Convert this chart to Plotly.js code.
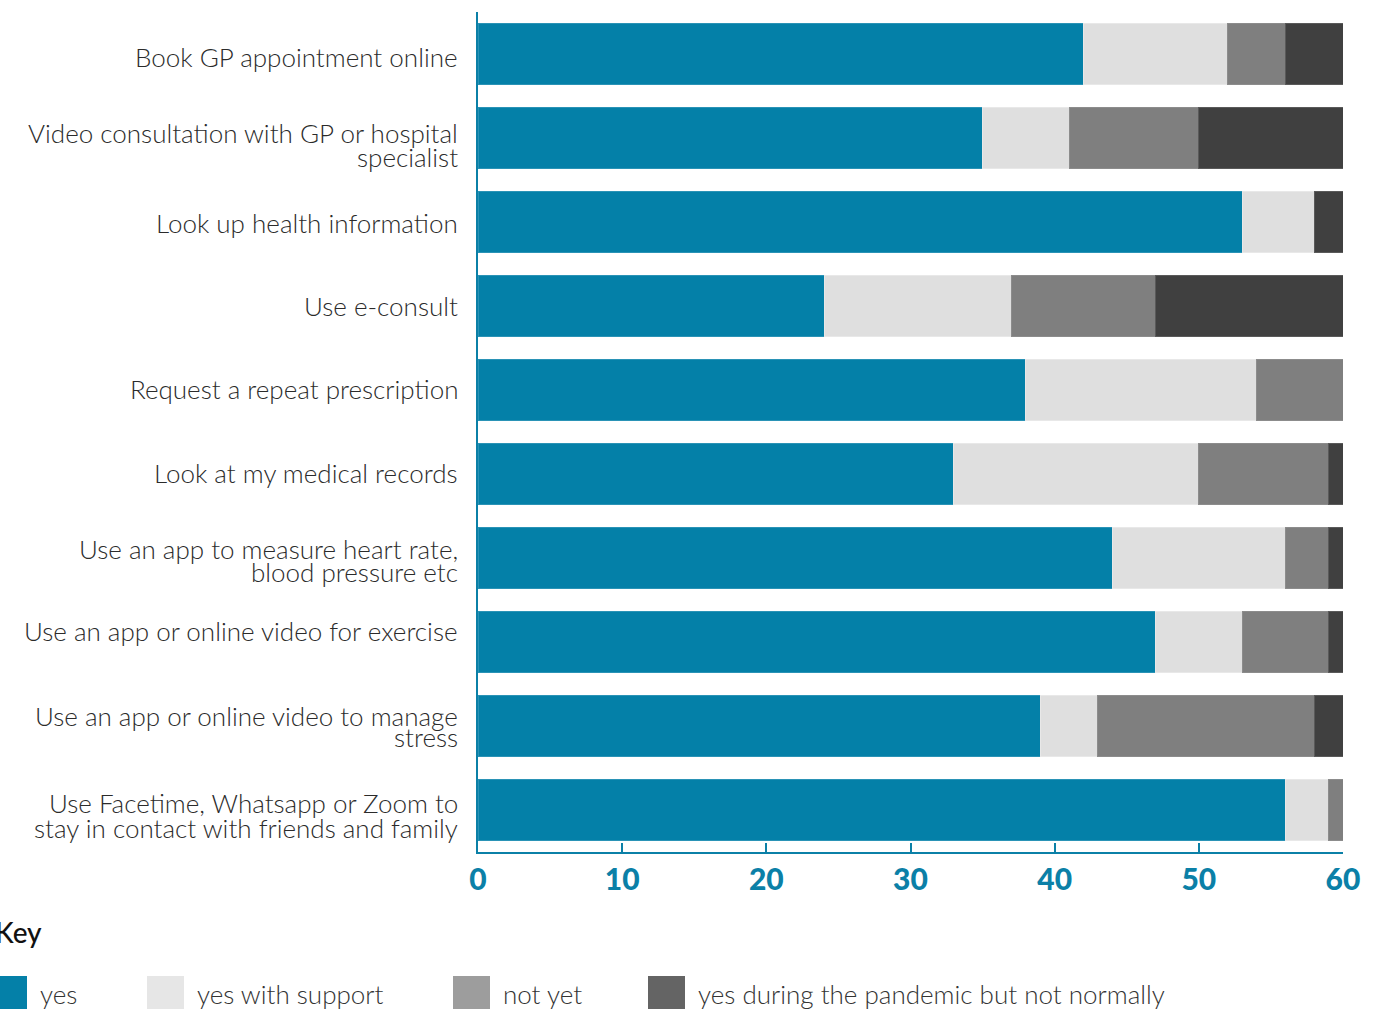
<!DOCTYPE html>
<html>
<head>
<meta charset="utf-8">
<script src="https://cdn.plot.ly/plotly-3.0.1.min.js"></script>
<style>
  html, body { margin: 0; padding: 0; background: #fff; }
  #chart { width: 1395px; height: 1009px; }
</style>
</head>
<body>
<div id="chart"></div>
<script>
// ---- Data ----
const categories = [
  "Book GP appointment online",
  "Video consultation with GP or hospital<br>specialist",
  "Look up health information",
  "Use e-consult",
  "Request a repeat prescription",
  "Look at my medical records",
  "Use an app to measure heart rate,<br>blood pressure etc",
  "Use an app or online video for exercise",
  "Use an app or online video to manage<br>stress",
  "Use Facetime, Whatsapp or Zoom to<br>stay in contact with friends and family"
];
const seriesNames = ["yes", "yes with support", "not yet", "yes during the pandemic but not normally"];
const yesVals      = [42, 35, 53, 24, 38, 33, 44, 47, 39, 56];
const supportVals  = [10,  6,  5, 13, 16, 17, 12,  6,  4,  3];
const notYetVals   = [ 4,  9,  0, 10,  6,  9,  3,  6, 15,  1];
const pandemicVals = [ 4, 10,  2, 13,  0,  1,  1,  1,  2,  0];
const xTickVals = [0, 10, 20, 30, 40, 50, 60];

// ---- Styling ----
const barColors    = ["#0480a8", "#dfdfdf", "#7f7f7f", "#404040"];
const barEdge      = ["#2a93b6", "#e8e8e8", "#8c8c8c", "#5a5a5a"];
const legendColors = ["#0480a8", "#e6e6e6", "#9d9d9d", "#646464"];
// per-line vertical nudges of the category labels (pixels), as placed in the reference
const labelLineShifts = [[-3], [5, -19], [-1], [0], [1], [1], [9, -14], [11], [10, -11], [7, -18]];

const allSeries = [yesVals, supportVals, notYetVals, pandemicVals];

const traces = allSeries.map((vals, i) => ({
  type: "bar",
  orientation: "h",
  name: seriesNames[i],
  x: vals,
  y: categories,
  width: 0.73,
  marker: { color: barColors[i], line: { color: barEdge[i], width: 1 } },
  hoverinfo: "name+x",
  showlegend: false
}));

// ---- Layout geometry (pixels) ----
const W = 1395, H = 1009;
const mL = 478, mR = 52, mT = 12, mB = 157;
const plotW = W - mL - mR, plotH = H - mT - mB;
const px = (p) => (p - mL) / plotW;
const py = (p) => (H - mB - p) / plotH;

const teal = "#0b80a7";
const labelFont = { family: "Lato, 'Open Sans', sans-serif", size: 26, color: "#2b2b2b", weight: 300 };
const shapes = [];
const annotations = [];

// Category labels (tight line spacing like the reference)
categories.forEach((c, i) => {
  const lines = c.split("<br>");
  lines.forEach((ln, j) => {
    annotations.push({
      xref: "paper", yref: "y", x: px(460), y: c,
      xanchor: "right", yanchor: "middle", showarrow: false,
      yshift: labelLineShifts[i][j],
      text: ln, font: labelFont
    });
  });
});

// Key title
annotations.push({
  xref: "paper", yref: "paper", x: px(-7), y: py(932),
  xanchor: "left", yanchor: "middle", showarrow: false,
  text: "Key", font: { family: "Lato, 'Open Sans', sans-serif", size: 28, color: "#111", weight: 500 }
});

// Legend swatches + labels
const swatchX = [-10, 147, 453, 648];
const textX   = [38, 195, 501, 696];
seriesNames.forEach((n, i) => {
  shapes.push({
    type: "rect", xref: "paper", yref: "paper",
    x0: px(swatchX[i]), x1: px(swatchX[i] + 37),
    y0: py(1015), y1: py(976),
    fillcolor: legendColors[i], line: { width: 0 }
  });
  annotations.push({
    xref: "paper", yref: "paper", x: px(textX[i]), y: py(994),
    xanchor: "left", yanchor: "middle", showarrow: false,
    text: n, font: { family: "Lato, 'Open Sans', sans-serif", size: 26, color: "#333", weight: 300 }
  });
});

const layout = {
  width: W, height: H,
  margin: { l: mL, r: mR, t: mT, b: mB, pad: 0 },
  barmode: "stack",
  bargap: 0.27,
  paper_bgcolor: "#fff",
  plot_bgcolor: "#fff",
  showlegend: false,
  xaxis: {
    range: [0, 60],
    tickvals: xTickVals,
    ticktext: xTickVals.map(String),
    showgrid: false,
    zeroline: false,
    showline: true,
    linecolor: teal,
    linewidth: 2,
    ticks: "inside",
    ticklen: 9,
    tickwidth: 2,
    tickcolor: teal,
    ticklabelstandoff: 0,
    tickfont: { family: "Lato, 'Open Sans', sans-serif", size: 30, color: teal, weight: 900 },
    mirror: false,
    fixedrange: true
  },
  yaxis: {
    type: "category",
    categoryorder: "array",
    categoryarray: categories,
    range: [9.5, -0.5],
    showgrid: false,
    zeroline: false,
    showline: true,
    linecolor: teal,
    linewidth: 2,
    ticks: "",
    showticklabels: false,
    fixedrange: true
  },
  shapes: shapes,
  annotations: annotations
};

Plotly.newPlot("chart", traces, layout, { displayModeBar: false });
</script>
</body>
</html>
